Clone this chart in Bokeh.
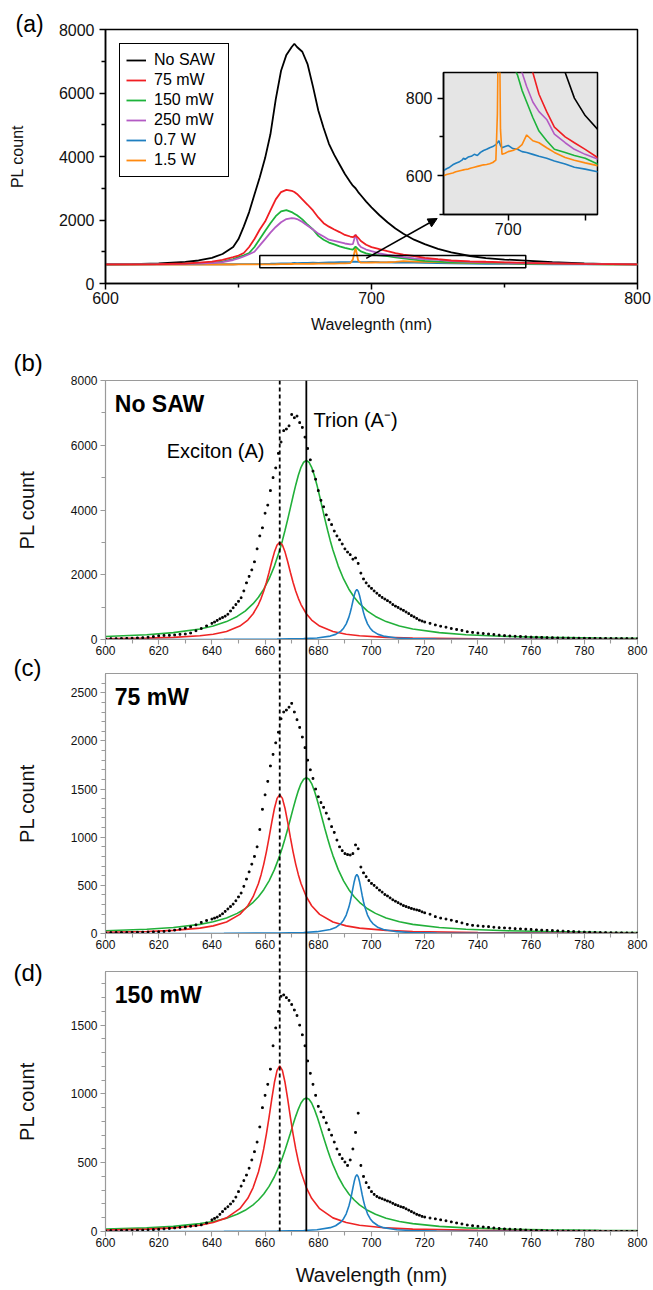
from bokeh.plotting import figure
from bokeh.models import (Range1d, FixedTicker, Label, Legend, LegendItem,
                          BoxAnnotation, Arrow, NormalHead, Span, GridBox, Column)
from bokeh.embed import file_html
from bokeh.resources import INLINE

FONT = "Liberation Sans"

# ---------------- panel (a): PL spectra vs SAW power ----------------
WL_A = [600, 610, 620, 630, 635, 640, 644, 648, 650, 652, 654, 656, 658, 660, 662,
        664, 666, 668, 670, 671, 672, 674, 676, 678, 680, 682, 684, 686, 688, 690,
        692, 693, 694, 695, 696, 698, 700, 703, 706, 709, 712, 716, 720, 725, 730,
        737, 743, 750, 758, 768, 780, 790, 800]
NO_SAW = [600, 612, 635, 680, 725, 810, 930, 1150, 1400, 1800, 2250, 2800, 3350, 3950, 4700,
          5800, 6700, 7200, 7450, 7550, 7450, 7300, 6900, 6200, 5450, 4900, 4400, 4050, 3750, 3450,
          3200, 3080, 3000, 2880, 2780, 2580, 2400, 2150, 1930, 1730, 1565, 1380, 1240, 1090, 980,
          866, 800, 755, 720, 670, 630, 610, 600]
P75 = [600, 605, 612, 630, 655, 690, 745, 830, 880, 960, 1150, 1400, 1700, 1950, 2300,
       2650, 2880, 2950, 2920, 2880, 2820, 2650, 2480, 2300, 2080, 1900, 1790, 1700, 1620, 1530,
       1480, 1460, 1520, 1440, 1340, 1220, 1145, 1080, 1018, 960, 910, 866, 810, 765, 725,
       700, 685, 668, 647, 635, 620, 612, 605]
P150 = [600, 603, 608, 620, 630, 650, 690, 770, 830, 890, 960, 1150, 1400, 1650, 1900,
        2120, 2270, 2310, 2250, 2200, 2150, 2020, 1850, 1700, 1500, 1380, 1290, 1230, 1170, 1120,
        1080, 1070, 1160, 1080, 1010, 950, 910, 885, 860, 820, 790, 750, 715, 690, 668,
        660, 652, 645, 630, 620, 610, 605, 600]
P250 = [600, 602, 606, 615, 625, 640, 670, 740, 790, 850, 920, 1000, 1200, 1400, 1600,
        1780, 1930, 2030, 2060, 2050, 2030, 1940, 1820, 1700, 1570, 1480, 1380, 1340, 1300, 1260,
        1230, 1240, 1540, 1250, 1150, 1070, 1018, 950, 900, 866, 830, 790, 765, 745, 707,
        685, 668, 655, 643, 630, 615, 608, 602]
P700 = [598, 600, 600, 602, 603, 605, 606, 607, 608, 608, 610, 612, 613, 618, 622,
        628, 632, 635, 640, 645, 642, 648, 650, 655, 652, 660, 665, 668, 672, 675,
        680, 685, 690, 678, 672, 675, 678, 670, 668, 662, 660, 655, 650, 645, 638,
        630, 622, 617, 610, 606, 603, 601, 600]
P1500 = [595, 596, 597, 598, 598, 598, 599, 599, 600, 600, 600, 600, 600, 603, 605,
         607, 610, 612, 614, 615, 616, 617, 620, 622, 624, 626, 628, 629, 631, 634,
         640, 760, 1130, 720, 655, 658, 662, 665, 670, 680, 705, 690, 685, 672, 660,
         647, 640, 633, 626, 615, 608, 603, 600]
SERIES_A = [("No SAW", NO_SAW, "#000000"), ("75 mW", P75, "#f01e23"),
            ("150 mW", P150, "#1db33b"), ("250 mW", P250, "#b35bc4"),
            ("0.7 W", P700, "#1f7fc0"), ("1.5 W", P1500, "#ff8a10")]
DRAW_ORDER_A = ["No SAW", "0.7 W", "1.5 W", "150 mW", "250 mW", "75 mW"]
INSET_X = (658, 758)
INSET_Y = (500, 866)
ZOOM_BOX_Y = (500, 880)
ARROW_FROM = (698, 790)
ARROW_TO = (724.7, 2047)

# ---------------- panels (b)-(d): data + Lorentzian fits ----------------
WL = [600, 602, 604, 606, 608, 610, 612, 614, 616, 618, 620, 622, 624, 626, 628, 630, 632, 634, 636, 638, 640,
      641, 642, 643, 644, 645, 646, 647, 648, 649, 650, 651, 652, 653, 654, 655, 656, 657, 658, 659, 660,
      661, 662, 663, 664, 665, 666, 667, 668, 669, 670, 671, 672, 673, 674, 675, 676, 677, 678, 679, 680,
      681, 682, 683, 684, 685, 686, 687, 688, 689, 690, 691, 692, 693, 694, 695, 696, 697, 698, 699, 700,
      701, 702, 703, 704, 705, 706, 707, 708, 709, 710, 711, 712, 713, 714, 715, 716, 717, 718, 719,
      720, 722, 724, 726, 728, 730, 732, 734, 736, 738, 740, 742, 744, 746, 748, 750, 752, 754, 756, 758,
      760, 762, 764, 766, 768, 770, 772, 774, 776, 778, 780, 782, 784, 786, 788, 790, 792, 794, 796, 798, 800]
DATA_B = [20, 25, 25, 30, 35, 40, 50, 55, 70, 90, 115, 125, 130, 140, 160, 170, 200, 270, 340, 420, 500,
          540, 590, 640, 680, 720, 780, 880, 980, 1080, 1180,
          1290, 1500, 1750, 1950, 2150, 2400, 2800, 3200, 3450, 3900,
          4150, 4600, 5000, 5300, 5750, 6100, 6450, 6500, 6600, 6950,
          6850, 6900, 6700, 6550, 6250, 5900, 5550, 5200, 4950, 4600,
          4300, 4100, 3850, 3700, 3550, 3350, 3200, 3080, 2950, 2800,
          2700, 2620, 2480, 2520, 2350, 2050, 1870, 1750, 1650, 1580,
          1500, 1430, 1360, 1300, 1250, 1200, 1150, 1080, 1030, 990,
          940, 900, 850, 800, 740, 700, 650, 600, 570,
          540, 500, 450, 410, 380, 340, 310, 280, 240, 220,
          200, 185, 170, 155, 135, 120, 110, 100, 93, 85,
          75, 70, 65, 60, 55, 50, 48, 45, 42, 40,
          38, 36, 35, 33, 32, 30, 30, 28, 28, 27, 26]
DATA_C = [8, 9, 10, 10, 11, 12, 13, 14, 15, 17, 18, 22, 28, 35, 45, 55, 70, 90, 115, 135, 150,
          160, 170, 185, 205, 230, 255, 280, 305, 340, 380,
          420, 490, 565, 640, 720, 800, 900, 1080, 1290, 1440,
          1580, 1740, 1860, 1980, 2090, 2230, 2300, 2320, 2350, 2390,
          2300, 2220, 2140, 2040, 1930, 1800, 1700, 1610, 1500, 1420,
          1360, 1310, 1250, 1190, 1110, 1050, 970, 900, 860, 830,
          820, 815, 830, 920, 880, 690, 630, 590, 550, 520,
          500, 475, 450, 430, 405, 390, 370, 350, 335, 320,
          305, 290, 280, 270, 260, 252, 245, 238, 225,
          215, 200, 175, 160, 150, 138, 125, 110, 95, 85,
          80, 75, 72, 65, 60, 58, 55, 50, 48, 45,
          42, 38, 35, 33, 31, 28, 25, 22, 20, 17,
          15, 13, 12, 10, 9, 8, 8, 7, 6, 6, 5]
DATA_D = [5, 6, 6, 7, 8, 8, 9, 10, 12, 14, 16, 19, 22, 26, 30, 34, 38, 42, 48, 62, 85,
          95, 105, 125, 145, 165, 180, 200, 220, 250, 290,
          330, 370, 410, 460, 520, 580, 650, 760, 900, 990,
          1070, 1180, 1350, 1480, 1600, 1710, 1720, 1700, 1680, 1650,
          1610, 1570, 1500, 1430, 1350, 1240, 1150, 1070, 990, 910,
          870, 830, 790, 740, 700, 650, 600, 560, 530, 505,
          480, 520, 600, 720, 860, 480, 400, 355, 320, 290,
          270, 255, 245, 238, 230, 222, 215, 205, 195, 188,
          180, 175, 165, 155, 145, 135, 125, 118, 110,
          105, 98, 92, 85, 78, 70, 62, 55, 47, 42,
          38, 33, 30, 26, 22, 19, 17, 15, 14, 10,
          8, 7, 6, 5, 5, 4, 4, 3, 3, 3,
          2, 2, 2, 2, 1, 1, 1, 1, 1, 1, 1]

# exciton (A) fit
EXC_X = [600, 615.5, 625.5, 635.5, 640.5, 645.5, 650.5, 653.5, 655.5, 657.5, 658.5, 659.5, 660.5, 661.5,
         662.5, 663.5, 664.5, 665.5, 666.5, 667.5, 668.5, 669.5, 670.5, 671.5, 672.5, 673.5, 675.5,
         677.5, 680.5, 685.5, 690.5, 695.5, 705.5, 715.5, 740, 800]
EXC_B = [25, 43, 66, 116, 164, 248, 414, 600, 795, 1080, 1272, 1500, 1770, 2076, 2400, 2700, 2919, 3000,
         2919, 2700, 2400, 2076, 1770, 1500, 1272, 1080, 795, 600, 414, 248, 164, 116, 66, 43, 19, 6]
EXC_C = [12, 20, 32, 56, 79, 119, 199, 288, 382, 519, 611, 721, 851, 998, 1154, 1298, 1403, 1442,
         1403, 1298, 1154, 998, 851, 721, 611, 519, 382, 288, 199, 119, 79, 56, 32, 20, 9, 3]
EXC_D = [10, 17, 26, 46, 66, 99, 166, 241, 319, 433, 510, 602, 710, 832, 962, 1083, 1171, 1203,
         1171, 1083, 962, 832, 710, 602, 510, 433, 319, 241, 166, 99, 66, 46, 26, 17, 8, 2]
# trion (A-) fit
TRI_X = [600, 615.5, 625.5, 635.5, 640.5, 645.5, 649.5, 652.5, 655.5, 657.5, 659.5, 661.5, 663.5, 665.5,
         666.5, 667.5, 668.5, 669.5, 670.5, 671.5, 672.5, 673.5, 674.5, 675.5,
         676.5, 677.5, 678.5, 679.5, 680.5, 681.5, 682.5, 683.5, 684.5, 685.5,
         687.5, 689.5, 691.5, 693.5, 695.5, 698.5, 701.5, 705.5, 710.5, 715.5,
         725.5, 735.5, 751, 765.5, 785.5, 800]
TRI_B = [95, 149, 213, 325, 418, 553, 713, 879, 1106, 1305, 1554, 1869, 2267, 2765,
         3053, 3373, 3711, 4065, 4424, 4767, 5071, 5320, 5475, 5530,
         5475, 5320, 5071, 4767, 4424, 4065, 3711, 3373, 3053, 2765,
         2267, 1869, 1554, 1305, 1106, 879, 713, 553, 418, 325,
         213, 149, 95, 67, 45, 35]
TRI_C = [28, 44, 62, 95, 122, 162, 209, 257, 324, 382, 455, 547, 663, 809,
         893, 987, 1086, 1189, 1294, 1395, 1484, 1557, 1602, 1618,
         1602, 1557, 1484, 1395, 1294, 1189, 1086, 987, 893, 809,
         663, 547, 455, 382, 324, 257, 209, 162, 122, 95,
         62, 44, 28, 20, 13, 10]
TRI_D = [17, 26, 37, 57, 73, 97, 125, 154, 194, 229, 273, 328, 398, 486,
         536, 592, 652, 714, 777, 837, 890, 934, 961, 971,
         961, 934, 890, 837, 777, 714, 652, 592, 536, 486,
         398, 328, 273, 229, 194, 154, 125, 97, 73, 57,
         37, 26, 17, 12, 8, 6]
# 694 nm peak fit
P3_X = [600, 644.5, 664.5, 674.5, 679.5, 684.5, 686.5, 688.5, 689.5, 690.5, 691.5, 692, 692.5, 693,
        693.5, 694, 694.5, 695, 695.5, 696, 696.5, 697, 697.5, 698.5, 699.5, 700.5, 702.5, 704.5,
        709.5, 714.5, 724.5, 744.5, 800]
P3_B = [1, 4, 12, 28, 48, 105, 158, 260, 349, 484, 691, 833, 998, 1180, 1358, 1494, 1545,
        1494, 1358, 1180, 998, 833, 691, 484, 349, 260, 158, 105, 48, 28, 12, 4, 1]
P3_C = [0, 2, 5, 11, 19, 42, 62, 103, 138, 192, 274, 330, 395, 468, 538, 592, 612,
        592, 538, 468, 395, 330, 274, 192, 138, 103, 62, 42, 19, 11, 5, 2, 0]
P3_D = [0, 1, 3, 7, 13, 28, 42, 69, 93, 129, 185, 223, 267, 316, 363, 399, 413,
        399, 363, 316, 267, 223, 185, 129, 93, 69, 42, 28, 13, 7, 3, 1, 0]
EXCITON_NM = 665.5
TRION_NM = 675.5

X_TICKS = [600, 620, 640, 660, 680, 700, 720, 740, 760, 780, 800]
X_MINOR = [610, 630, 650, 670, 690, 710, 730, 750, 770, 790]

RED, GREEN, BLUE = "#ee2424", "#22b03a", "#1f80c4"
GRAY = "#9a9a9a"

W = 653
H_A, H_B, H_C, H_D = 336, 323, 297, 334
H_ALL = H_A + H_B + H_C + H_D
BL, BR = 105, 16   # common left/right borders of the stacked panels
TOP_B, BOT_D = 44, 59


def base_style(p, color, width, tick_size, out_major, out_minor):
    for ax in (p.xaxis[0], p.yaxis[0]):
        ax.axis_line_color = color
        ax.axis_line_width = width
        ax.major_tick_line_color = color
        ax.minor_tick_line_color = color
        ax.major_tick_line_width = width
        ax.minor_tick_line_width = width
        ax.major_tick_in = 0
        ax.minor_tick_in = 0
        ax.major_tick_out = out_major
        ax.minor_tick_out = out_minor
        ax.major_label_text_font = FONT
        ax.major_label_text_font_size = tick_size
        ax.major_label_text_color = "#111111"
        ax.axis_label_text_font = FONT
        ax.axis_label_text_font_style = "normal"
        ax.axis_label_text_color = "#111111"
    p.xgrid.visible = False
    p.ygrid.visible = False
    p.outline_line_color = color
    p.outline_line_width = width


def overlay(width, height, xr, yr, left, right, top, bottom, **kw):
    p = figure(width=width, height=height, x_range=xr, y_range=yr,
               output_backend="svg", toolbar_location=None,
               min_border_left=left, min_border_right=right, min_border_top=top,
               min_border_bottom=bottom, border_fill_color=None, **kw)
    return p


# ---------------- figure (a) ----------------
pa = figure(width=W, height=H_A, x_range=Range1d(600, 800), y_range=Range1d(0, 8000),
            output_backend="svg", toolbar_location=None,
            min_border_left=BL, min_border_right=BR, min_border_top=29, min_border_bottom=53)
base_style(pa, "black", 1.5, "16px", 6, 4)
pa.xaxis.ticker = FixedTicker(ticks=[600, 700, 800], minor_ticks=[650, 750])
pa.yaxis.ticker = FixedTicker(ticks=[0, 2000, 4000, 6000, 8000], minor_ticks=[1000, 3000, 5000, 7000])
pa.xaxis.major_label_standoff = 2
pa.xaxis.axis_label = "Wavelegnth (nm)"
pa.xaxis.axis_label_text_font_size = "16px"
pa.xaxis.axis_label_standoff = 9
pa.yaxis.axis_label = "PL count"
pa.yaxis.axis_label_text_font_size = "16px"
pa.yaxis.axis_label_standoff = 30

renderers = {}
lookup = {name: (vals, col) for name, vals, col in SERIES_A}
for name in DRAW_ORDER_A:
    vals, col = lookup[name]
    renderers[name] = pa.line(WL_A, vals, line_color=col, line_width=1.8)
legend = Legend(items=[LegendItem(label=n, renderers=[renderers[n]]) for n, _, _ in SERIES_A],
                location="top_left", margin=14, padding=6, spacing=0,
                label_height=20, glyph_height=20, glyph_width=20, label_standoff=8,
                label_width=68,
                label_text_font=FONT, label_text_font_size="16px", label_text_color="black",
                border_line_color="black", border_line_width=1.5, border_line_alpha=1,
                background_fill_alpha=1)
pa.add_layout(legend)
pa.add_layout(BoxAnnotation(left=INSET_X[0], right=INSET_X[1], bottom=ZOOM_BOX_Y[0], top=ZOOM_BOX_Y[1],
                            fill_color=None, fill_alpha=0, line_color="black", line_alpha=1,
                            line_width=1.5))
pa.add_layout(Arrow(end=NormalHead(size=9, fill_color="black", line_color="black"),
                    x_start=ARROW_FROM[0], y_start=ARROW_FROM[1], x_end=ARROW_TO[0], y_end=ARROW_TO[1],
                    line_color="black", line_width=1.5))


# ---------------- panels (b)-(d) ----------------
def make_panel(h, top, bottom, ymax, yticks, yminor, data, exc, tri, p3, name, name_y):
    p = figure(width=W, height=h, x_range=Range1d(600, 800), y_range=Range1d(0, ymax),
               output_backend="svg", toolbar_location=None,
               min_border_left=BL, min_border_right=BR, min_border_top=top, min_border_bottom=bottom)
    base_style(p, GRAY, 1.1, "12px", 5, 4)
    p.xaxis.ticker = FixedTicker(ticks=X_TICKS, minor_ticks=X_MINOR)
    p.yaxis.ticker = FixedTicker(ticks=yticks, minor_ticks=yminor)
    p.xaxis.major_label_standoff = 1
    p.yaxis.major_label_standoff = 3
    p.yaxis.axis_label = "PL count"
    p.yaxis.axis_label_text_font_size = "20px"
    p.yaxis.axis_label_standoff = 30
    p.line(TRI_X, tri, line_color=GREEN, line_width=1.6)
    p.line(EXC_X, exc, line_color=RED, line_width=1.6)
    p.line(P3_X, p3, line_color=BLUE, line_width=1.6)
    p.scatter(WL, data, marker="square", size=1.7, color="black")
    p.add_layout(Label(x=603.5, y=name_y, text=name, text_font=FONT, text_font_size="23px",
                       text_font_style="bold", text_baseline="middle", text_color="black"))
    return p


pb = make_panel(H_B, TOP_B, 20, 8000, [0, 2000, 4000, 6000, 8000], [1000, 3000, 5000, 7000],
                DATA_B, EXC_B, TRI_B, P3_B, "No SAW", 7260)
pb.add_layout(Label(x=623, y=5807, text="Exciton (A)", text_font=FONT, text_font_size="20px",
                    text_baseline="middle", text_color="black"))
pb.add_layout(Label(x=678.2, y=6765, text="Trion (A\u207b)", text_font=FONT, text_font_size="20px",
                    text_baseline="middle", text_color="black"))

pc = make_panel(H_C, 14, 23, 2700, [0, 500, 1000, 1500, 2000, 2500],
                [100, 200, 300, 400, 600, 700, 800, 900, 1100, 1200, 1300, 1400,
                 1600, 1700, 1800, 1900, 2100, 2200, 2300, 2400, 2600],
                DATA_C, EXC_C, TRI_C, P3_C, "75 mW", 2458)

pd_ = make_panel(H_D, 15, BOT_D, 1890, [0, 500, 1000, 1500],
                 [100, 200, 300, 400, 600, 700, 800, 900, 1100, 1200, 1300, 1400,
                  1600, 1700, 1800],
                 DATA_D, EXC_D, TRI_D, P3_D, "150 mW", 1717)
pd_.xaxis.axis_label = "Wavelength (nm)"
pd_.xaxis.axis_label_text_font_size = "20px"
pd_.xaxis.axis_label_standoff = 14

main = Column(children=[pa, pb, pc, pd_], spacing=0)

# ---------------- inset (same size as (a), overlapping it; frame placed by borders) ----------------
pi = overlay(W, H_A, Range1d(*INSET_X), Range1d(*INSET_Y), 443, 56, 72, 122,
             background_fill_color="#e5e5e5")
base_style(pi, "black", 1.5, "16px", 6, 4)
pi.xaxis.ticker = FixedTicker(ticks=[700, 750], minor_ticks=[])
pi.xaxis.major_label_overrides = {750: ""}
pi.xaxis.major_label_standoff = 2
pi.yaxis.ticker = FixedTicker(ticks=[600, 800], minor_ticks=[500, 700])
for name in DRAW_ORDER_A:
    vals, col = lookup[name]
    pi.line(WL_A, vals, line_color=col, line_width=1.6)

# ---------------- vertical reference lines spanning (b)-(d) ----------------
pv = overlay(W, H_ALL, Range1d(600, 800), Range1d(0, 1), BL, BR, H_A + TOP_B, BOT_D,
             x_axis_type=None, y_axis_type=None, background_fill_color=None, outline_line_color=None)
pv.xgrid.visible = False
pv.ygrid.visible = False
pv.add_layout(Span(location=EXCITON_NM, dimension="height", line_color="black",
                   line_width=1.8, line_dash="4 3"))
pv.add_layout(Span(location=TRION_NM, dimension="height", line_color="black", line_width=1.8))

# ---------------- panel tags: overlay over the whole page, in pixel-like coordinates ----------------
pt = overlay(W, H_ALL, Range1d(0, W), Range1d(H_ALL, 0), 0, 0, 0, 0,
             x_axis_type=None, y_axis_type=None, background_fill_color=None,
             outline_line_color=None, min_border=0)
pt.xgrid.visible = False
pt.ygrid.visible = False
for tag, tx, ty, fs in [("(a)", 15, 23, "23px"), ("(b)", 13, 362, "24px"),
                        ("(c)", 13, 667, "24px"), ("(d)", 13, 972, "24px")]:
    pt.add_layout(Label(x=tx, y=ty, text=tag, text_font=FONT, text_font_size=fs,
                        text_baseline="middle", text_align="left", text_color="black"))

grid = GridBox(children=[(main, 0, 0), (Column(children=[pi]), 0, 0),
                         (Column(children=[pv]), 0, 0), (Column(children=[pt]), 0, 0)],
               spacing=0)

open("out.html", "w").write(file_html(grid, INLINE))
